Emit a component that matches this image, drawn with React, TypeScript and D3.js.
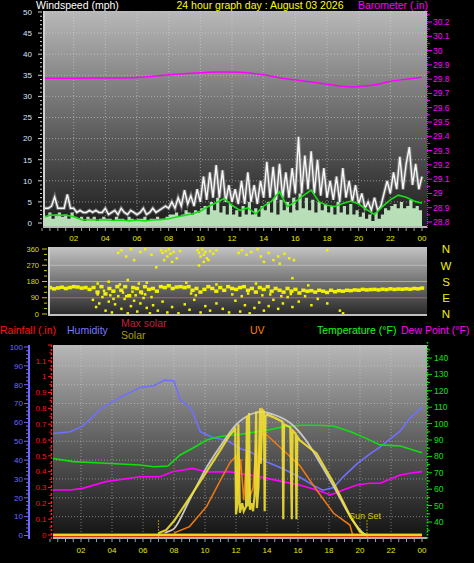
import React from 'react';
import * as d3 from 'd3';

const FONT = '"Liberation Sans", Arial, sans-serif';

// ---------- shared time axis ----------
const hourTicks = [2, 4, 6, 8, 10, 12, 14, 16, 18, 20, 22, 24];
const hourLabels = ['02', '04', '06', '08', '10', '12', '14', '16', '18', '20', '22', '00'];

// ---------- top chart: wind (mph) & barometer (in) ----------
const windTicks = [0, 5, 10, 15, 20, 25, 30, 35, 40, 45, 50];
const baroTicks = [28.8, 28.9, 29.0, 29.1, 29.2, 29.3, 29.4, 29.5, 29.6, 29.7, 29.8, 29.9, 30.0, 30.1, 30.2];

const gustStep = 0.2;
const gust = [
  3.5, 3.5, 3.5, 4, 6.2, 3.5, 3.5, 3.5, 6.8, 3.5, 3.5,
  2.5, 3, 2.5, 2.5, 3, 2.5, 3, 2.5, 2.5, 3.5,
  2, 2.5, 3, 2, 3.5, 2.5, 2, 3, 2.5, 2,
  2.5, 3.5, 2, 2.5, 3.5, 2.5, 3, 3.5, 4, 3.5,
  5, 3.5, 6, 4, 7.8, 4.5, 6.5, 4, 8, 5,
  11, 5.5, 12, 6, 13.7, 6, 12.5, 5, 9, 5,
  8, 4.5, 10, 4.5, 12, 5, 9, 4.5, 10, 6,
  14.5, 6, 13.3, 5.5, 14, 6, 12, 6, 13, 7,
  20.4, 7, 16, 8, 17, 7, 15, 6.5, 13, 6,
  10, 5.5, 11, 5, 13, 6, 10, 5, 9, 4.5,
  7, 3.5, 5, 3, 6, 3, 4, 7, 10, 7,
  12, 8, 15.7, 8, 14, 18, 9, 14, 8, 11,
];

const windStep = 0.2;
const windSpeed = [
  2, 1.5, 2.5, 1, 2, 2.5, 1.5, 2, 1, 2.5, 1.5,
  1, 1.5, 0.5, 1.5, 1, 1.5, 0.5, 1, 1.5, 1,
  1, 0.5, 1.5, 1, 1, 0.5, 1.5, 1, 0.5, 1,
  1, 1.5, 0.5, 1, 1, 1.5, 1, 1, 1.5, 2,
  2, 2.5, 1.5, 2, 3, 2.5, 2, 3, 2.5, 3.5,
  4, 2, 5, 3, 6, 2.5, 4, 2, 4.5, 2,
  3, 1.5, 4, 2, 5, 2, 3.5, 1.5, 4, 3,
  5, 2.5, 6, 2, 5.5, 3, 5, 2.5, 6, 3,
  7, 3.5, 6, 3, 5.5, 2.5, 5, 3, 4.5, 2.5,
  4, 2, 5, 2.5, 4, 2, 4.5, 2, 3, 1.5,
  2.5, 1, 2, 0.5, 2.5, 1, 2, 3.5, 3, 4,
  4.5, 3.5, 5, 3.5, 4, 5.5, 3.5, 4, 3, 3.5,
];

const avgStep = 0.5;
const windAvg = [
  1.2, 1.9, 1.8, 1.9, 1.5, 0.8, 0.7, 0.7, 0.7, 0.6, 0.7, 0.5, 0.7, 0.5, 0.7, 0.8,
  1.0, 1.4, 1.8, 2.2, 2.8, 3.9, 4.8, 5.8, 4.2, 3.0, 3.6, 2.2, 4.0, 5.2, 7.4, 3.9,
  5.0, 6.5, 7.8, 5.0, 4.2, 3.9, 4.6, 5.2, 4.5, 3.2, 2.0, 3.9, 5.5, 6.6, 6.1, 5.2, 4.7,
];

const baroHours = [0, 2, 4, 6, 8, 10, 11, 12, 13, 14, 15, 16, 17, 18, 19, 19.5, 20, 21, 22, 23, 24];
const baro = [29.806, 29.806, 29.808, 29.812, 29.83, 29.845, 29.85, 29.85, 29.845, 29.83, 29.81,
  29.795, 29.78, 29.765, 29.75, 29.745, 29.748, 29.76, 29.785, 29.8, 29.813];

// ---------- middle chart: wind direction ----------
const dirTicks = [0, 90, 180, 270, 360];
const compass = ['N', 'E', 'S', 'W', 'N'];
const dirBandStep = 0.25;
const dirBand = [
  140, 142, 145, 138, 143, 147, 140, 145, 150, 148, 142, 145,
  135, 145, 120, 150, 110, 140, 125, 150,
  130, 150, 100, 145, 140, 120, 150, 135,
  140, 125, 150, 145, 155, 140, 148, 150,
  145, 150, 130, 140, 120, 135, 150, 140,
  125, 145, 130, 150, 140, 135, 145, 150,
  130, 140, 120, 145, 135, 150, 125, 140,
  130, 120, 140, 125, 135, 115, 130, 125,
  128, 120, 130, 125, 118, 130, 122, 128,
  125, 130, 128, 132, 130, 135, 132, 134,
  135, 132, 136, 134, 138, 135, 137, 136,
  138, 136, 140, 138, 142,
];
const dirScatter: [number, number][] = [
  [3.2, 80], [3.4, 40], [3.6, 60], [3.8, 95], [4.0, 20], [4.2, 70], [4.4, 10], [4.6, 55], [4.8, 100],
  [5.0, 30], [5.2, 85], [5.4, 5], [5.6, 45], [5.8, 75], [6.0, 15], [6.2, 60], [6.4, 90], [6.6, 35],
  [6.8, 5], [7.0, 50], [7.3, 20], [7.6, 70], [7.9, 10], [8.2, 40], [8.6, 5], [9.0, 55], [9.3, 25],
  [9.6, 80], [10.0, 10], [10.3, 45], [10.6, 20], [11.0, 60], [11.4, 30], [11.8, 10], [12.2, 75],
  [12.5, 15], [12.8, 50], [13.1, 5], [13.4, 35], [13.7, 65], [14.0, 20], [14.3, 45], [14.6, 80],
  [14.9, 30], [15.2, 60], [15.5, 95], [15.8, 40], [16.2, 70], [16.6, 100], [17.0, 50], [17.4, 85],
  [18.0, 60], [18.8, 20], [19.0, 5], [3.5, 110], [4.5, 85], [5.1, 120], [5.9, 105], [6.3, 115],
  [4.8, 340], [5.0, 355], [5.3, 320], [5.6, 360], [5.8, 300], [6.2, 345], [6.5, 360], [6.9, 330],
  [7.2, 260], [7.5, 355], [7.6, 340], [7.8, 350], [7.9, 320], [8.0, 360], [8.1, 335], [8.3, 345],
  [8.5, 310], [8.7, 350], [7.7, 300], [8.2, 290], [9.8, 355], [9.9, 340], [10.0, 320], [10.1, 360],
  [10.2, 330], [10.3, 345], [10.4, 310], [10.6, 350], [10.8, 335], [11.0, 355], [10.5, 300],
  [10.2, 290], [9.9, 270], [12.4, 340], [12.6, 355], [12.9, 330], [13.2, 345], [13.6, 360],
  [13.8, 320], [14.0, 290], [14.3, 340], [14.6, 300], [14.9, 320], [15.0, 280], [15.3, 335],
  [15.6, 310], [15.9, 300], [15.8, 200], [18.0, 355], [3.5, 170], [4.2, 180], [4.9, 165],
  [5.4, 190], [6.1, 170], [6.6, 175], [9.1, 175], [11.0, 165], [13.5, 170], [16.8, 160],
  [3.9, 130], [4.3, 105], [5.3, 100], [5.7, 125], [6.5, 110], [6.9, 95], [9.4, 115], [9.7, 105],
  [12.0, 110], [12.6, 100], [13.0, 115], [13.9, 105], [14.4, 110], [15.1, 100], [15.7, 112],
];

// ---------- bottom chart ----------
const humTicks = [0, 10, 20, 30, 40, 50, 60, 70, 80, 90, 100];
const rainTicks = [0, 0.1, 0.2, 0.3, 0.4, 0.5, 0.6, 0.7, 0.8, 0.9, 1, 1.1];
const tempTicks = [40, 50, 60, 70, 80, 90, 100, 110, 120, 130, 140];

const humidity: [number, number][] = [
  [0, 54], [1.3, 55], [2.1, 58], [3.4, 68], [4.7, 74], [5.8, 78.5], [6.7, 79.5], [7.4, 82.5],
  [8.0, 82], [8.4, 72], [9.1, 67.5], [9.7, 55], [10.5, 52], [11.4, 50.5], [12.3, 46], [12.9, 44.5],
  [14, 39], [15, 35.5], [16.1, 31], [17, 26.5], [17.6, 24], [18.3, 25.5], [18.9, 31], [19.8, 38],
  [20.6, 43], [21.3, 47], [22.6, 55.5], [23.2, 62], [24, 68],
];
const temperature: [number, number][] = [
  [0, 79], [1.5, 76.8], [3.6, 75.8], [5.8, 74.8], [6.7, 73.7], [7.6, 74.1], [8.4, 80.9], [9.2, 85],
  [10.1, 90], [10.9, 92], [12.3, 93.5], [13, 94.5], [14, 96], [15, 98], [16.1, 99], [17.2, 99],
  [18.3, 98.5], [19.4, 95], [20.4, 91], [21.3, 87], [22.6, 86.3], [24, 82.2],
];
const dewPoint: [number, number][] = [
  [0, 59.5], [1.3, 59.5], [2.1, 60.5], [3.6, 64.6], [5.8, 67.6], [7.1, 67.6], [7.9, 70.7], [9.2, 72.7],
  [10.1, 70.5], [11.5, 70.7], [12.9, 68.6], [14, 66.6], [15, 64.6], [16.1, 62.6], [17.2, 59.5],
  [18.1, 56.5], [18.9, 59.5], [19.8, 62.6], [20.6, 63.6], [21.3, 63.6], [22.6, 68.7], [23.2, 69.7], [24, 70.7],
];
const solar: [number, number][] = [
  [0, 0], [7.0, 0], [7.05, 13], [7.5, 32], [8, 88], [9, 234], [10, 385], [11, 537], [11.6, 632],
  [11.9, 663], [11.95, 680], [12.0, 130], [12.1, 200], [12.15, 700], [12.25, 140], [12.4, 200],
  [12.5, 150], [12.65, 180], [12.7, 750], [12.75, 180], [12.84, 770], [12.9, 160], [13.0, 200],
  [13.1, 150], [13.2, 250], [13.3, 780], [13.35, 170], [13.45, 300], [13.55, 800], [13.6, 450],
  [13.7, 790], [13.8, 780], [13.85, 150], [13.9, 750], [14.0, 760], [14.5, 740], [15.0, 715],
  [15.05, 100], [15.1, 700], [15.5, 680], [15.6, 100], [15.65, 660], [15.85, 640], [15.9, 100],
  [15.95, 620], [16.1, 600], [17.2, 515], [18.3, 328], [19.4, 114], [20.0, 20], [20.4, 0], [24, 0],
];
const maxSolar: [number, number][] = [
  [7.3, 0], [7.4, 10], [8, 40], [9, 221], [10, 410], [11, 562], [12, 695], [13, 764], [13.6, 777],
  [14.5, 758], [15.5, 707], [16.5, 600], [17.5, 442], [18.5, 272], [19.5, 95], [20, 32], [20.3, 0],
];
const uv: [number, number][] = [
  [0, 0], [8.0, 0], [8.06, 0.15], [9.0, 0.53], [10.1, 1.8], [11.0, 3.47], [11.6, 4.55], [12.0, 5.0],
  [12.1, 2.5], [12.3, 4.8], [12.5, 2.2], [12.7, 5.3], [12.9, 2.4], [13.1, 3.0], [13.3, 5.8],
  [13.4, 2.8], [13.55, 6.4], [14.0, 6.3], [15.0, 5.4], [16.1, 4.4], [17.2, 2.84], [18.3, 1.37],
  [19.35, 0.63], [19.5, 0.1], [19.6, 0], [24, 0],
];
const rainfall: [number, number][] = [[0, 0], [24, 0]];
const sunRise = 7.0;
const sunSet = 20.45;

type P = [number, number];

export default function App() {
  // layout
  const top = { x0: 43, x1: 427, y0: 11, y1: 228 };
  const mid = { x0: 48, x1: 427, y0: 247, y1: 316 };
  const bot = { x0: 53, x1: 427, y0: 345, y1: 539 };

  const xTop = d3.scaleLinear().domain([0, 24]).range([42, 422]);
  const yWind = d3.scaleLinear().domain([0, 50]).range([223, 12]);
  const yBaro = d3.scaleLinear().domain([28.8, 30.2]).range([222, 22]);
  const yDir = d3.scaleLinear().domain([0, 360]).range([314, 249]);
  const xBot = d3.scaleLinear().domain([0, 24]).range([50, 422]);
  const yHum = d3.scaleLinear().domain([0, 100]).range([535.5, 347]);
  const yRain = d3.scaleLinear().domain([0, 1.2]).range([535, 345]);
  const yTemp = d3.scaleLinear().domain([40, 140]).range([522, 358]);
  const ySolar = d3.scaleLinear().domain([0, 1200]).range([535, 345]);
  const yUV = d3.scaleLinear().domain([0, 12]).range([535, 345]);

  const stepSeries = (arr: number[], step: number): P[] => arr.map((v, i) => [i * step, v]);
  const gustPts = stepSeries(gust, gustStep);
  const windPts = stepSeries(windSpeed, windStep);
  const avgPts = stepSeries(windAvg, avgStep);
  const baroPts: P[] = baroHours.map((h, i) => [h, baro[i]]);
  const bandPts = stepSeries(dirBand, dirBandStep);

  const gustLine = d3.line<P>().x(d => xTop(d[0])).y(d => yWind(d[1])).curve(d3.curveLinear);
  const windArea = d3.area<P>().x(d => xTop(d[0])).y0(top.y1).y1(d => yWind(d[1])).curve(d3.curveStepAfter);
  const avgLine = d3.line<P>().x(d => xTop(d[0])).y(d => yWind(d[1])).curve(d3.curveLinear);
  const baroLine = d3.line<P>().x(d => xTop(d[0])).y(d => yBaro(d[1])).curve(d3.curveMonotoneX);

  const lineBot = (ys: d3.ScaleLinear<number, number>, curve: d3.CurveFactory = d3.curveLinear) =>
    d3.line<P>().x(d => xBot(d[0])).y(d => ys(d[1])).curve(curve);

  const grid = '#d8d8d8';
  const minorWind = d3.range(0, 51, 1);
  const minorBaro = d3.range(28.8, 30.26, 0.05);
  const minorHours = d3.range(0, 24.01, 0.5);
  const minorHum = d3.range(0, 101, 2);
  const minorRain = d3.range(0, 1.21, 0.05);
  const minorTemp = d3.range(35, 146, 5);
  const minorDir = d3.range(0, 361, 30);

  return (
    <svg width={474} height={563} viewBox="0 0 474 563"
      style={{ position: 'absolute', left: 0, top: 0, background: '#000', fontFamily: FONT }}>
      <defs>
        <linearGradient id="gTop" x1="0" y1="0" x2="0" y2="1">
          <stop offset="0" stopColor="#b8b8b8" />
          <stop offset="0.5" stopColor="#686868" />
          <stop offset="1" stopColor="#1a1a1a" />
        </linearGradient>
        <linearGradient id="gMid" x1="0" y1="0" x2="0" y2="1">
          <stop offset="0" stopColor="#c4c4c4" />
          <stop offset="0.55" stopColor="#6c6c6c" />
          <stop offset="1" stopColor="#262626" />
        </linearGradient>
        <linearGradient id="gBot" x1="0" y1="0" x2="0" y2="1">
          <stop offset="0" stopColor="#b8b8b8" />
          <stop offset="0.5" stopColor="#5e5e5e" />
          <stop offset="1" stopColor="#121212" />
        </linearGradient>
        <clipPath id="cTop"><rect x={top.x0} y={top.y0} width={top.x1 - top.x0} height={top.y1 - top.y0} /></clipPath>
        <clipPath id="cMid"><rect x={mid.x0} y={mid.y0} width={mid.x1 - mid.x0} height={mid.y1 - mid.y0} /></clipPath>
        <clipPath id="cBot"><rect x={bot.x0} y={bot.y0} width={bot.x1 - bot.x0} height={bot.y1 - bot.y0} /></clipPath>
      </defs>

      {/* ================= TOP CHART ================= */}
      <text x={36} y={9} fill="#ffffff" fontSize={10.5}>Windspeed (mph)</text>
      <text x={260} y={9} fill="#ffff00" fontSize={10.5} textAnchor="middle">24 hour graph day : August 03 2026</text>
      <text x={428} y={9} fill="#ff00ff" fontSize={10.5} textAnchor="end">Barometer (.in)</text>

      <rect x={top.x0} y={top.y0} width={top.x1 - top.x0} height={top.y1 - top.y0} fill="url(#gTop)" />
      <g clipPath="url(#cTop)">
        {windTicks.slice(1).map(v => (
          <line key={'gw' + v} x1={top.x0} x2={top.x1} y1={yWind(v)} y2={yWind(v)} stroke={grid} strokeOpacity={0.55} strokeDasharray="1,2" />
        ))}
        {hourTicks.slice(0, -1).map(h => (
          <line key={'gh' + h} x1={xTop(h)} x2={xTop(h)} y1={top.y0} y2={top.y1} stroke={grid} strokeOpacity={0.55} strokeDasharray="1,2" />
        ))}
        <path d={baroLine(baroPts) || ''} fill="none" stroke="#ff00ff" strokeWidth={1.5} />
        <path d={gustLine(gustPts) || ''} fill="none" stroke="#9a9a9a" strokeWidth={3.5} strokeOpacity={0.6} />
        <path d={gustLine(gustPts) || ''} fill="none" stroke="#f8f8f8" strokeWidth={1.4} />
        <path d={windArea(windPts) || ''} fill="#c6efc6" fillOpacity={0.92} stroke="none" />
        <path d={avgLine(avgPts) || ''} fill="none" stroke="#18e018" strokeWidth={1.6} />
      </g>
      <line x1={top.x0 + 1} x2={top.x0 + 1} y1={top.y0} y2={top.y1} stroke="#d0d0d0" strokeWidth={2} />
      <line x1={top.x0} x2={top.x1} y1={top.y1 - 1} y2={top.y1 - 1} stroke="#b8b8b8" strokeWidth={2} />
      {/* left wind axis */}
      {minorWind.map(v => (
        <line key={'tw' + v} x1={v % 5 === 0 ? 38 : 40} x2={42} y1={yWind(v)} y2={yWind(v)} stroke="#d0d0d0" strokeWidth={1} />
      ))}
      {windTicks.map(v => (
        <text key={'lw' + v} x={32} y={yWind(v)} dy="0.35em" fill="#d8e4ff" fontSize={8} textAnchor="end">{v}</text>
      ))}
      {/* right barometer axis */}
      <line x1={427.5} x2={427.5} y1={top.y0} y2={top.y1} stroke="#ff00ff" strokeDasharray="1,1" />
      {minorBaro.map((v, i) => (
        <line key={'tb' + i} x1={427} x2={i % 2 === 0 ? 432 : 430} y1={yBaro(v)} y2={yBaro(v)} stroke="#ff00ff" />
      ))}
      {baroTicks.map(v => (
        <text key={'lb' + v} x={433} y={yBaro(v)} dy="0.35em" fill="#ff00ff" fontSize={8.5}>{String(+v.toFixed(1))}</text>
      ))}
      {/* time ticks + labels */}
      {minorHours.map(h => (
        <line key={'th' + h} x1={xTop(h)} x2={xTop(h)} y1={top.y1} y2={top.y1 + 3} stroke="#a0a0a0" />
      ))}
      {hourTicks.map((h, i) => (
        <text key={'lh' + h} x={xTop(h)} y={238.5} dy="0.35em" fill="#e8e800" fontSize={8} textAnchor="middle">{hourLabels[i]}</text>
      ))}

      {/* ================= MIDDLE CHART ================= */}
      <rect x={mid.x0} y={mid.y0} width={mid.x1 - mid.x0} height={mid.y1 - mid.y0} fill="url(#gMid)" />
      <g clipPath="url(#cMid)">
        {[90, 180, 270].map(v => (
          <line key={'gd' + v} x1={mid.x0} x2={mid.x1} y1={yDir(v)} y2={yDir(v)}
            stroke={v === 90 ? '#c08898' : '#d0d0d0'} strokeOpacity={0.6} />
        ))}
        {dirScatter.map((d, i) => (
          <rect key={'ds' + i} x={xTop(d[0]) - 1} y={yDir(d[1]) - 1} width={2.5} height={2.5} fill="#f2f200" />
        ))}
        {bandPts.map((d, i) => (
          <rect key={'db' + i} x={xTop(d[0]) - 2} y={yDir(d[1]) - 2} width={4.2} height={3.5} fill="#f2f200" />
        ))}
      </g>
      <line x1={mid.x0 + 1} x2={mid.x0 + 1} y1={mid.y0} y2={mid.y1} stroke="#d0d0d0" strokeWidth={2} />
      <line x1={mid.x0} x2={mid.x1} y1={mid.y1 - 1} y2={mid.y1 - 1} stroke="#c0c0c0" strokeWidth={2} />
      {minorDir.map(v => (
        <line key={'td' + v} x1={v % 90 === 0 ? 42 : 44} x2={47} y1={yDir(v)} y2={yDir(v)} stroke="#c8c800" />
      ))}
      {dirTicks.map(v => (
        <text key={'ld' + v} x={39} y={yDir(v)} dy="0.35em" fill="#dcdc00" fontSize={7.5} textAnchor="end">{v}</text>
      ))}
      {dirTicks.map((v, i) => (
        <text key={'lc' + i} x={446} y={yDir(v)} dy="0.38em" fill="#f0f000" fontSize={11.5} textAnchor="middle">{compass[i]}</text>
      ))}

      {/* ================= BOTTOM CHART ================= */}
      <text x={0} y={334} fill="#ff1010" fontSize={10.5}>Rainfall (.in)</text>
      <text x={67} y={334} fill="#7878ff" fontSize={10.5}>Humidity</text>
      <text x={121} y={327} fill="#c0203c" fontSize={10.5}>Max solar</text>
      <text x={121} y={339} fill="#a8a000" fontSize={10.5}>Solar</text>
      <text x={250} y={334} fill="#ff8000" fontSize={10.5}>UV</text>
      <text x={317} y={334} fill="#10ff10" fontSize={10.5}>Temperature (°F)</text>
      <text x={401} y={334} fill="#ff00ff" fontSize={10.5}>Dew Point (°F)</text>

      <rect x={bot.x0} y={bot.y0} width={bot.x1 - bot.x0} height={bot.y1 - bot.y0} fill="url(#gBot)" />
      <g clipPath="url(#cBot)">
        {humTicks.slice(1).map(v => (
          <line key={'gb' + v} x1={bot.x0} x2={bot.x1} y1={yHum(v)} y2={yHum(v)} stroke={grid} strokeOpacity={0.5} strokeDasharray="1,2" />
        ))}
        {hourTicks.slice(0, -1).map(h => (
          <line key={'gbh' + h} x1={xBot(h)} x2={xBot(h)} y1={bot.y0} y2={bot.y1} stroke={grid} strokeOpacity={0.5} strokeDasharray="1,2" />
        ))}
        <path d={lineBot(yHum)(humidity) || ''} fill="none" stroke="#7070ff" strokeWidth={1.6} />
        <path d={lineBot(yTemp)(temperature) || ''} fill="none" stroke="#10e010" strokeWidth={1.6} />
        <path d={lineBot(yTemp)(dewPoint) || ''} fill="none" stroke="#ff00ff" strokeWidth={1.6} />
        <path d={lineBot(ySolar, d3.curveMonotoneX)(maxSolar) || ''} fill="none" stroke="#c8c8c8" strokeWidth={1.8} />
        <path d={lineBot(yRain)(rainfall) || ''} fill="none" stroke="#ff0000" strokeWidth={3.5} />
        <path d={lineBot(yUV)(uv) || ''} fill="none" stroke="#f07a10" strokeWidth={1.5} />
        <path d={lineBot(ySolar)(solar.filter(d => d[0] <= sunRise + 0.01 || d[0] >= 20.4)) || ''} fill="none" stroke="#f0d020" strokeWidth={2.5} />
        <path d={lineBot(ySolar)(solar.filter(d => d[0] >= sunRise && d[0] <= 20.4)) || ''} fill="none" stroke="#f2e030" strokeOpacity={0.9} strokeWidth={2.2} />
        {[sunRise, sunSet].map(h => (
          <line key={'sun' + h} x1={xBot(h)} x2={xBot(h)} y1={yHum(8)} y2={bot.y1} stroke="#f0e000" strokeWidth={1.2} strokeDasharray="1,2" />
        ))}
        <text x={xBot(sunSet) - 18} y={519} fill="#d8c800" fontSize={9}>Sun Set</text>
      </g>
      <line x1={bot.x0} x2={bot.x1} y1={bot.y1 - 1} y2={bot.y1 - 1} stroke="#b0b0b0" strokeWidth={2} />
      {/* humidity axis */}
      <line x1={29} x2={29} y1={bot.y0} y2={bot.y1} stroke="#6a6aff" strokeWidth={2} />
      {minorHum.map(v => (
        <line key={'thu' + v} x1={v % 10 === 0 ? 24 : 26} x2={29} y1={yHum(v)} y2={yHum(v)} stroke="#6a6aff" />
      ))}
      {humTicks.map(v => (
        <text key={'lhu' + v} x={23} y={yHum(v)} dy="0.35em" fill="#6a6aff" fontSize={8} textAnchor="end">{v}</text>
      ))}
      {/* rain axis */}
      <line x1={51.5} x2={51.5} y1={bot.y0} y2={bot.y1} stroke="#ff2020" strokeWidth={1.5} strokeDasharray="2,2" />
      {minorRain.map((v, i) => (
        <line key={'tr' + i} x1={i % 2 === 0 ? 48 : 49.5} x2={52} y1={yRain(v)} y2={yRain(v)} stroke="#ff2020" />
      ))}
      {rainTicks.map(v => (
        <text key={'lr' + v} x={46.5} y={yRain(v)} dy="0.35em" fill="#ff1010" fontSize={8} textAnchor="end">{String(v)}</text>
      ))}
      {/* temperature axis */}
      <line x1={427.5} x2={427.5} y1={bot.y0 - 3} y2={bot.y1} stroke="#10e010" strokeWidth={1.5} strokeDasharray="1.5,1.5" />
      {minorTemp.map(v => (
        <line key={'tt' + v} x1={427} x2={v % 10 === 0 ? 432 : 430} y1={yTemp(v)} y2={yTemp(v)} stroke="#10e010" />
      ))}
      {tempTicks.map(v => (
        <text key={'lt' + v} x={434} y={yTemp(v)} dy="0.35em" fill="#10e010" fontSize={8.5}>{v}</text>
      ))}
      {minorHours.map(h => (
        <line key={'tbh' + h} x1={xBot(h)} x2={xBot(h)} y1={bot.y1} y2={bot.y1 + 3} stroke="#a0a0a0" />
      ))}
      {hourTicks.map((h, i) => (
        <text key={'lbh' + h} x={xBot(h)} y={550} dy="0.35em" fill="#e8e800" fontSize={8} textAnchor="middle">{hourLabels[i]}</text>
      ))}
    </svg>
  );
}
